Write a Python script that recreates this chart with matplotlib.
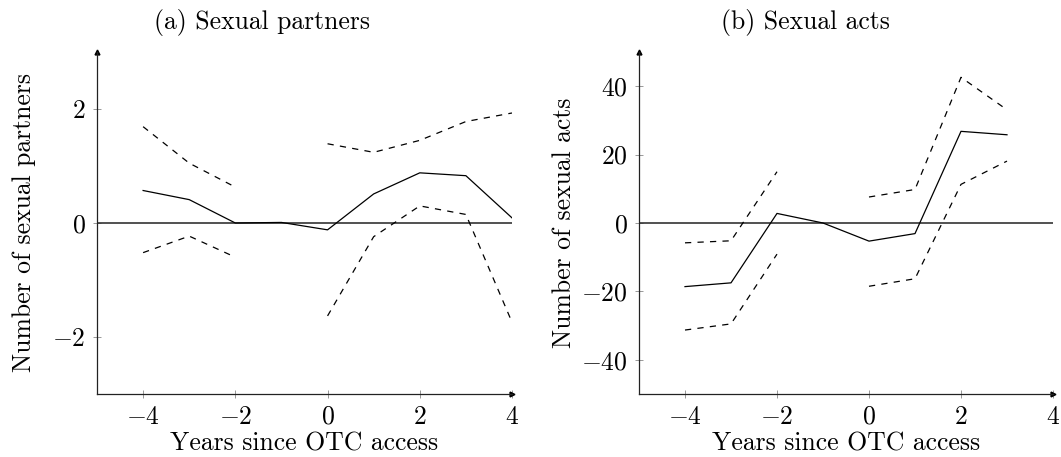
import matplotlib
matplotlib.use("Agg")
import matplotlib.pyplot as plt
import numpy as np

# event-study estimates, year -1 is the reference (no CI)
years_a = [-4, -3, -2, -1, 0, 1, 2, 3, 4]
partners_est = [0.57, 0.41, 0.0, 0.01, -0.12, 0.51, 0.88, 0.83, 0.09]
partners_hi = [1.69, 1.05, 0.63, np.nan, 1.39, 1.24, 1.45, 1.78, 1.93]
partners_lo = [-0.52, -0.23, -0.60, np.nan, -1.63, -0.24, 0.30, 0.15, -1.74]

years_b = [-4, -3, -2, -1, 0, 1, 2, 3]
acts_est = [-18.6, -17.5, 2.8, 0.0, -5.3, -3.1, 26.8, 25.8]
acts_hi = [-5.8, -5.2, 15.0, np.nan, 7.6, 9.8, 42.6, 33.1]
acts_lo = [-31.3, -29.5, -9.1, np.nan, -18.5, -16.3, 11.3, 18.1]

plt.rcParams.update({
    "font.family": "serif",
    "font.serif": ["cmr10"],
    "mathtext.fontset": "cm",
    "axes.formatter.use_mathtext": True,
    "font.size": 18.5,
    "axes.labelsize": 18.5,
    "xtick.labelsize": 18.5,
    "ytick.labelsize": 18.5,
})

fig = plt.figure(figsize=(10.61, 4.57), dpi=100)
ax_a = fig.add_axes([97 / 1061, 63 / 457, 415 / 1061, 342 / 457])
ax_b = fig.add_axes([639 / 1061, 63 / 457, 414 / 1061, 342 / 457])


def style_axis(ax, ylim, yticks, ylabel, ypad):
    ax.set_xlim(-5, 4)
    ax.set_ylim(*ylim)
    ax.set_xticks([-4, -2, 0, 2, 4])
    ax.set_yticks(yticks)
    for side in ["top", "right"]:
        ax.spines[side].set_visible(False)
    for side in ["left", "bottom"]:
        ax.spines[side].set_color("#222222")
        ax.spines[side].set_linewidth(0.9)
    ax.tick_params(direction="inout", length=6, width=0.6, color="#888888", pad=5)
    ax.plot(1, 0, ">", color="k", ms=3.5, transform=ax.transAxes, clip_on=False)
    ax.plot(0, 1, "^", color="k", ms=3.5, transform=ax.transAxes, clip_on=False)
    ax.axhline(0, color="#333333", lw=1.2)
    ax.set_xlabel("Years since OTC access", labelpad=2)
    ax.set_ylabel(ylabel, labelpad=ypad)


def draw(ax, x, est, hi, lo):
    ax.plot(x, est, color="k", lw=0.9)
    ax.plot(x, hi, color="k", lw=0.9, linestyle=(0, (5, 5)))
    ax.plot(x, lo, color="k", lw=0.9, linestyle=(0, (5, 5)))


style_axis(ax_a, (-3, 3), [-2, 0, 2], "Number of sexual partners", 12)
draw(ax_a, years_a, partners_est, partners_hi, partners_lo)

style_axis(ax_b, (-50, 50), [-40, -20, 0, 20, 40], "Number of sexual acts", 4)
draw(ax_b, years_b, acts_est, acts_hi, acts_lo)

fig.text(262 / 1061, 1 - 22 / 457, "(a) Sexual partners", ha="center", va="center")
fig.text(805 / 1061, 1 - 22 / 457, "(b) Sexual acts", ha="center", va="center")

fig.savefig("out.png", dpi=100)
plt.close(fig)
